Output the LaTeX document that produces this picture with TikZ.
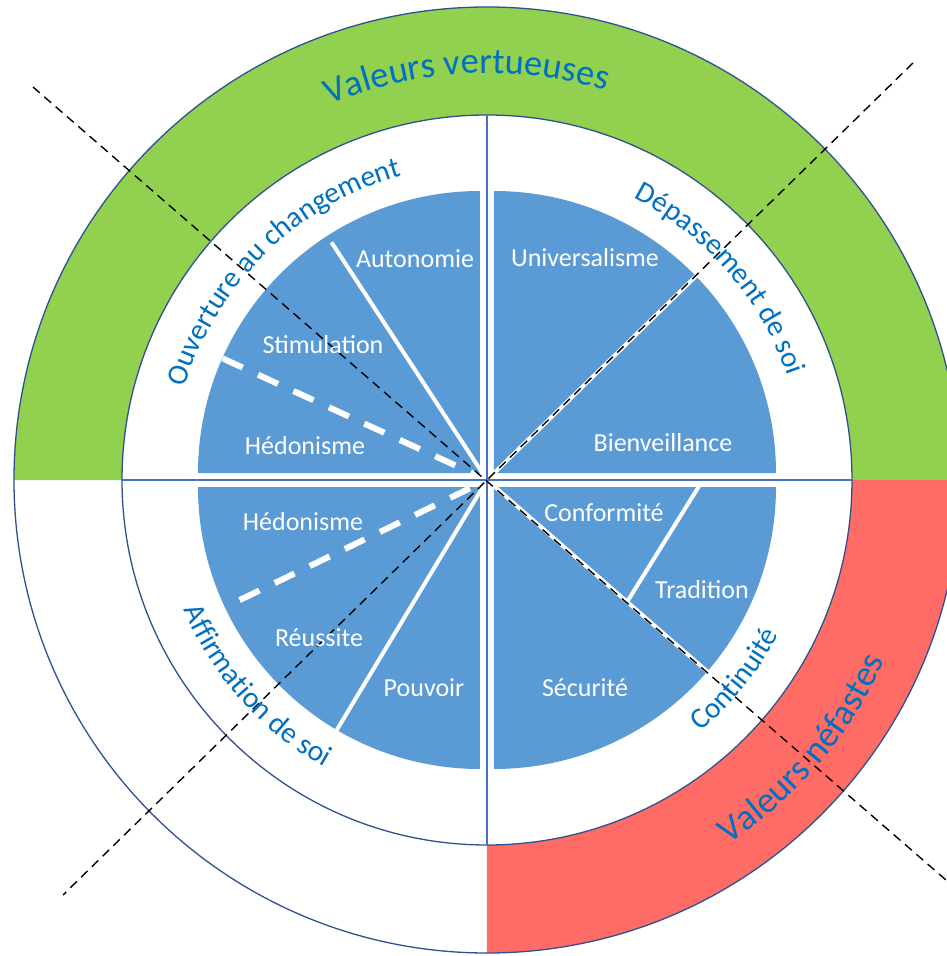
\documentclass[tikz,border=0pt]{standalone}
\usepackage{fontspec}
\setmainfont{Carlito}
\usetikzlibrary{decorations.text}
\definecolor{vgreen}{HTML}{92D050}
\definecolor{vred}{HTML}{FF6B65}
\definecolor{pieblue}{HTML}{5B9BD5}
\definecolor{ringline}{HTML}{2F528F}
\definecolor{divline}{HTML}{4472C4}
\definecolor{tblue}{HTML}{0070C0}
\newcommand\bigfnt{\fontsize{36.5}{36.5}\selectfont}
\newcommand\midfnt{\fontsize{29.5}{29.5}\selectfont}
\begin{document}
\begin{tikzpicture}[x=1pt,y=1pt,
  ring/.style={draw=ringline, line width=1.3pt},
  divider/.style={draw=divline, line width=1.3pt},
  piece/.style={fill=pieblue},
  wsolid/.style={draw=white, line width=4pt},
  wdash/.style={draw=white, line width=6pt, dash pattern=on 22pt off 17pt},
  bdash/.style={draw=black, line width=1.4pt, dash pattern=on 9pt off 6pt},
  lab/.style={text=white, font=\fontsize{26}{26}\selectfont, inner sep=0pt},
  curv/.style n args={3}{decorate, decoration={text along path, text={|#1|#2}, text align=center, text color=#3}},
]
\clip (-487,-476) rectangle (460,480);
\fill[white] (-487,-476) rectangle (460,480);

% outer bands
\fill[vgreen] (0:473pt) arc[start angle=0,end angle=180,radius=473pt] -- (180:365pt) arc[start angle=180,end angle=0,radius=365pt] -- cycle;
\fill[vred] (-90:473pt) arc[start angle=-90,end angle=0,radius=473pt] -- (0:365pt) arc[start angle=0,end angle=-90,radius=365pt] -- cycle;
\draw[ring] (0,0) circle[radius=473pt];
\draw[ring, fill=white] (0,0) circle[radius=365pt];

% pie quadrants
\fill[piece] (-7,7) -- +(180:282pt) arc[start angle=180,end angle=90,radius=282pt] -- cycle;
\fill[piece] (7,7) -- +(90:282pt) arc[start angle=90,end angle=0,radius=282pt] -- cycle;
\fill[piece] (-7,-7) -- +(180:282pt) arc[start angle=180,end angle=270,radius=282pt] -- cycle;
\fill[piece] (7,-7) -- +(270:282pt) arc[start angle=270,end angle=360,radius=282pt] -- cycle;

% white separators
\coordinate (c) at (0,0);
\coordinate (wa) at (123.2:284pt);
\coordinate (wb1) at (155.3:291pt);
\coordinate (wb2) at (155.3:12pt);
\coordinate (wc1) at (205.9:275pt);
\coordinate (wc2) at (205.9:12pt);
\coordinate (wd) at (239:292pt);
\coordinate (we) at (44.3:300pt);
\coordinate (wf) at (-41:300pt);
\coordinate (wg1) at (140,-122);
\coordinate (wg2) at (214,-3);
\draw[wsolid] (c) -- (wa);
\draw[wdash] (wb1) -- (wb2);
\draw[wdash] (wc1) -- (wc2);
\draw[wsolid] (c) -- (wd);
\draw[wsolid] (c) -- (we);
\draw[wsolid] (c) -- (wf);
\draw[wsolid] (wg1) -- (wg2);

% dividers
\coordinate (vt) at (0,365);
\coordinate (vb) at (0,-365);
\coordinate (hl) at (-365,0);
\coordinate (hr) at (365,0);
\draw[divider] (vt) -- (vb);
\draw[divider] (hl) -- (hr);

% black dashed diagonals
\coordinate (d1a) at (-454,393);
\coordinate (d1b) at (459,-400);
\coordinate (d2a) at (426,417);
\coordinate (d2b) at (-424,-415);
\draw[bdash] (d1a) -- (d1b);
\draw[bdash] (d2a) -- (d2b);

% value labels
\node[lab] (autonomie) at (-72,221) {Autonomie};
\node[lab] (stimulation) at (-164,135) {Stimulation};
\node[lab] (hedo1) at (-182,34) {Hédonisme};
\node[lab] (univ) at (98,222) {Universalisme};
\node[lab] (bienv) at (176,37) {Bienveillance};
\node[lab] (hedo2) at (-184,-42) {Hédonisme};
\node[lab] (reussite) at (-168,-158) {Réussite};
\node[lab] (pouvoir) at (-63,-208) {Pouvoir};
\node[lab] (conf) at (117,-33) {Conformité};
\node[lab] (trad) at (215,-110) {Tradition};
\node[lab] (secu) at (98,-208) {Sécurité};

% curved titles
\path[curv={\bigfnt}{Valeurs vertueuses}{tblue}] (132.9:407pt) arc[start angle=132.9,end angle=52.9,radius=407pt];
\path[curv={\midfnt}{Ouverture au changement}{tblue}] (179.3:316pt) arc[start angle=179.3,end angle=89.3,radius=316pt];
\path[curv={\midfnt}{Dépassement de soi}{tblue}] (85.8:318pt) arc[start angle=85.8,end angle=-4.2,radius=318pt];
\path[curv={\midfnt}{Affirmation de soi}{tblue}] (181.8:330pt) arc[start angle=181.8,end angle=261.8,radius=330pt];
\path[curv={\midfnt}{Continuité}{tblue}] (-78.8:330pt) arc[start angle=-78.8,end angle=1.2,radius=330pt];
\path[curv={\bigfnt}{Valeurs néfastes}{tblue}] (-80.4:437pt) arc[start angle=-80.4,end angle=-0.4,radius=437pt];
\end{tikzpicture}
\end{document}
